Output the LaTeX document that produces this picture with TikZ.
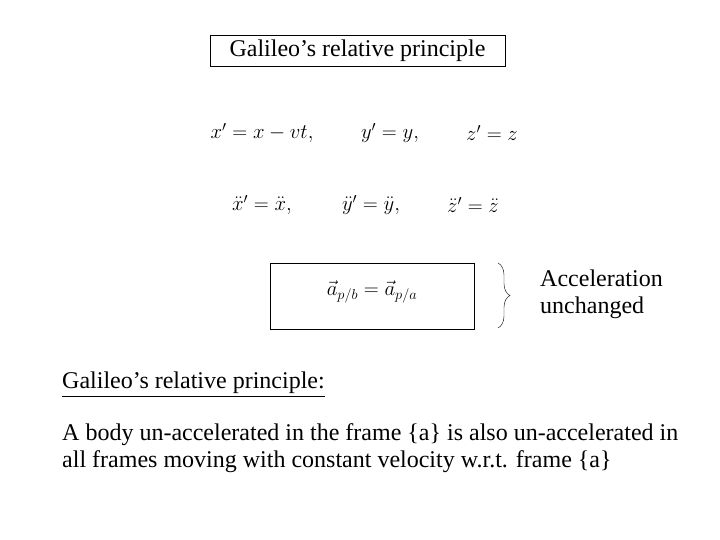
\documentclass[tikz,border=0pt]{standalone}
\usepackage{fontspec}
\setmainfont{Liberation Serif}
\usepackage{amsmath}
\usetikzlibrary{decorations.pathreplacing}
\begin{document}
\begin{tikzpicture}[x=1pt,y=-1pt,
  txt/.style={inner sep=0pt,font=\fontsize{24}{27}\selectfont},
  eq/.style={inner sep=0pt,font=\fontsize{22}{27}\selectfont}]
\useasboundingbox (0,0) rectangle (720,540);
\node[draw,minimum width=295pt,minimum height=31pt,inner sep=0pt,font=\fontsize{24}{27}\selectfont] (title) at (357.5,50.5) {Galileo’s relative principle};
\node[eq] (e1) at (262,133) {$x'=x-vt,$};
\node[eq] (e2) at (390,133) {$y'=y,$};
\node[eq] (e3) at (492,133) {$z'=z$};
\node[eq] (e4) at (262,205) {$\ddot{x}'=\ddot{x},$};
\node[eq] (e5) at (371,205) {$\ddot{y}'=\ddot{y},$};
\node[eq] (e6) at (473,205) {$\ddot{z}'=\ddot{z}$};
\node[draw,minimum width=204pt,minimum height=66pt,inner sep=0pt] (box) at (372,296) {};
\node[eq] (acc) at (372,292) {$\vec{a}_{p/b}=\vec{a}_{p/a}$};
\draw[decorate,decoration={brace,amplitude=12pt}] (498,263) -- (498,328);
\node[txt,anchor=west,align=left] (lab) at (540,294) {Acceleration\\unchanged};
\node[txt,anchor=west] (head) at (62,383) {Galileo’s relative principle:};
\draw ([yshift=-2pt]head.south west) -- ([yshift=-2pt]head.south east);
\node[txt,anchor=north west,align=left] (para) at (62,423) {A body un-accelerated in the frame \{a\} is also un-accelerated in\\all frames moving with constant velocity w.r.t. frame \{a\}};
\end{tikzpicture}
\end{document}
